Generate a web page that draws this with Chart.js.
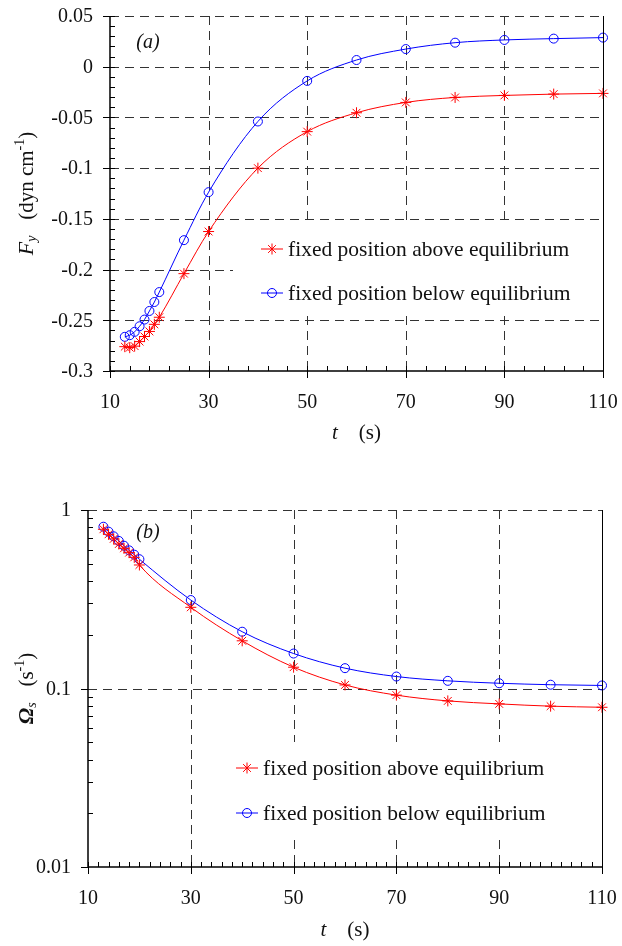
<!DOCTYPE html>
<html>
<head>
<meta charset="utf-8">
<script src="https://cdn.jsdelivr.net/npm/chart.js@4.4.9/dist/chart.umd.min.js"></script>
<style>
html, body { margin: 0; padding: 0; background: #fff; }
#wrap { position: relative; width: 622px; height: 946px; }
canvas { position: absolute; left: 0; }
</style>
</head>
<body>
<div id="wrap">
  <canvas id="fy" width="622" height="470" style="top:0"></canvas>
  <canvas id="om" width="622" height="476" style="top:470px"></canvas>
</div>
<script>
// data
const tTop = [13, 14, 15, 16, 17, 18, 19, 20, 25, 30, 40, 50, 60, 70, 80, 90, 100, 110];
const fyAbove = [-0.276, -0.277, -0.2755, -0.271, -0.266, -0.261, -0.254, -0.247, -0.204, -0.1625, -0.100, -0.064, -0.0454, -0.0352, -0.0303, -0.0283, -0.027, -0.0263];
const fyBelow = [-0.2663, -0.2647, -0.2614, -0.2559, -0.2493, -0.2408, -0.232, -0.2222, -0.171, -0.1237, -0.054, -0.014, 0.0066, 0.0174, 0.0237, 0.0264, 0.0277, 0.0287];

const tBot = [13, 14, 15, 16, 17, 18, 19, 20, 30, 40, 50, 60, 70, 80, 90, 100, 110];
const omAbove = [0.78, 0.731, 0.689, 0.645, 0.61, 0.577, 0.543, 0.492, 0.285, 0.185, 0.1316, 0.1047, 0.0918, 0.0852, 0.082, 0.0796, 0.0785];
const omBelow = [0.806, 0.756, 0.712, 0.671, 0.631, 0.594, 0.562, 0.53, 0.313, 0.208, 0.157, 0.130, 0.1167, 0.1104, 0.107, 0.105, 0.104];

const xTicks = [10, 30, 50, 70, 90, 110];
const fyTicks = [0.05, 0, -0.05, -0.1, -0.15, -0.2, -0.25, -0.3];
const omTicks = [0.01, 0.1, 1];
const labels = ['fixed position above equilibrium', 'fixed position below equilibrium'];

const RED = '#ff0000', BLUE = '#0000ff';
const SERIF = '"Liberation Serif", "Times New Roman", serif';

function series(xs, ys, i) {
  return {
    label: labels[i],
    data: xs.map((x, k) => ({ x, y: ys[k] })),
    borderColor: i ? BLUE : RED,
    backgroundColor: 'rgba(0,0,0,0)',
    borderWidth: 1,
    pointStyle: i ? 'circle' : 'star',
    pointRadius: i ? 4.5 : 5.5,
    pointBorderWidth: 1,
    pointBorderColor: i ? BLUE : RED,
    cubicInterpolationMode: 'monotone',
    clip: false
  };
}

// draw text made of several runs (italic, subscripts...) centred on cx,cy
function rich(ctx, parts, cx, cy, rot) {
  ctx.save();
  ctx.translate(cx, cy);
  if (rot) ctx.rotate(rot);
  let w = 0;
  parts.forEach(p => { ctx.font = p.f; w += ctx.measureText(p.t).width; });
  let x = -w / 2;
  ctx.fillStyle = '#111';
  ctx.textBaseline = 'middle';
  parts.forEach(p => {
    ctx.font = p.f;
    ctx.fillText(p.t, x, p.dy || 0);
    x += ctx.measureText(p.t).width;
  });
  ctx.restore();
}

function marker(ctx, style, color, x, y) {
  ctx.save();
  ctx.strokeStyle = color;
  ctx.lineWidth = 1;
  ctx.beginPath();
  ctx.moveTo(x - 11, y); ctx.lineTo(x + 11, y);
  ctx.stroke();
  ctx.beginPath();
  if (style === 'star') {
    const r = 5.5, d = r * Math.SQRT1_2;
    ctx.moveTo(x, y - r); ctx.lineTo(x, y + r);
    ctx.moveTo(x - d, y - d); ctx.lineTo(x + d, y + d);
    ctx.moveTo(x - d, y + d); ctx.lineTo(x + d, y - d);
  } else {
    ctx.arc(x, y, 4.5, 0, Math.PI * 2);
  }
  ctx.stroke();
  ctx.restore();
}

const fmt = v => String(+Number(v).toFixed(2));

function frame(o) {
  return {
    id: 'frame',
    beforeDatasetsDraw(chart) {
      const { ctx, chartArea: a, scales: { x, y } } = chart;
      ctx.save();
      ctx.lineWidth = 1;
      ctx.strokeStyle = '#333';
      ctx.setLineDash([9, 6]);
      xTicks.forEach(v => {
        if (v === x.min || v === x.max) return;
        const px = Math.round(x.getPixelForValue(v)) + 0.5;
        ctx.beginPath(); ctx.moveTo(px, a.top); ctx.lineTo(px, a.bottom); ctx.stroke();
      });
      o.yTicks.forEach(v => {
        if (v === y.min) return;
        const py = Math.round(y.getPixelForValue(v)) + 0.5;
        ctx.beginPath(); ctx.moveTo(a.left, py); ctx.lineTo(a.right, py); ctx.stroke();
      });
      ctx.setLineDash([]);
      ctx.fillStyle = '#fff';
      ctx.fillRect(o.box[0], o.box[1], o.box[2], o.box[3]);
      ctx.restore();
    },
    afterDatasetsDraw(chart) {
      const { ctx, chartArea: a, scales: { x, y } } = chart;
      ctx.save();
      ctx.strokeStyle = '#000';
      // right border
      ctx.lineWidth = 1;
      ctx.beginPath(); ctx.moveTo(a.right + 0.5, a.top); ctx.lineTo(a.right + 0.5, a.bottom); ctx.stroke();
      // left and bottom axes
      ctx.lineWidth = 1.5;
      ctx.beginPath();
      ctx.moveTo(a.left, a.top); ctx.lineTo(a.left, a.bottom); ctx.lineTo(a.right + 1, a.bottom);
      ctx.stroke();
      ctx.lineWidth = 1;
      ctx.beginPath();
      // major ticks outward
      xTicks.forEach(v => {
        const px = Math.round(x.getPixelForValue(v)) + 0.5;
        ctx.moveTo(px, a.bottom); ctx.lineTo(px, a.bottom + 7);
      });
      o.yTicks.forEach(v => {
        const py = Math.round(y.getPixelForValue(v)) + 0.5;
        ctx.moveTo(a.left - 7, py); ctx.lineTo(a.left, py);
      });
      // minor ticks inward
      for (let v = x.min; v <= x.max; v += o.xMinor) {
        const px = Math.round(x.getPixelForValue(v)) + 0.5;
        ctx.moveTo(px, a.bottom); ctx.lineTo(px, a.bottom - 5);
      }
      o.yMinor.forEach(v => {
        const py = Math.round(y.getPixelForValue(v)) + 0.5;
        ctx.moveTo(a.left, py); ctx.lineTo(a.left + 5, py);
      });
      ctx.stroke();

      // tick labels
      ctx.font = '20px ' + SERIF;
      ctx.fillStyle = '#111';
      ctx.textBaseline = 'middle';
      ctx.textAlign = 'center';
      x.ticks.forEach(t => ctx.fillText(fmt(t.value), x.getPixelForValue(t.value), a.bottom + 32));
      ctx.textAlign = 'right';
      y.ticks.forEach(t => ctx.fillText(fmt(t.value), a.left - 17, y.getPixelForValue(t.value) + 1));
      ctx.textAlign = 'left';

      // legend
      ctx.font = '21.5px ' + SERIF;
      o.legend.forEach((p, i) => {
        marker(ctx, i ? 'circle' : 'star', i ? BLUE : RED, p[0], p[1]);
        ctx.fillText(labels[i], p[0] + 16, p[1] + 1);
      });
      ctx.restore();

      // panel label and axis titles
      rich(ctx, [{ t: o.panel, f: 'italic 20px ' + SERIF }], o.panelAt[0], o.panelAt[1]);
      rich(ctx, [
        { t: 't', f: 'italic 21px ' + SERIF },
        { t: '    (s)', f: '21px ' + SERIF }
      ], (a.left + a.right) / 2, a.bottom + o.xTitleGap);
      rich(ctx, o.yTitle, o.yTitleX, (a.top + a.bottom) / 2, -Math.PI / 2);
    }
  };
}

function setTicks(list) {
  return s => { s.ticks = list.map(v => ({ value: v })); };
}

function axes(yType, yMin, yMax, yList, yWidth) {
  return {
    x: {
      type: 'linear', min: 10, max: 110,
      afterBuildTicks: setTicks(xTicks),
      afterFit: s => { s.height = 40; },
      grid: { display: false, drawTicks: false },
      border: { display: false },
      ticks: { display: false, padding: 0 }
    },
    y: {
      type: yType, min: yMin, max: yMax,
      afterBuildTicks: setTicks(yList),
      afterFit: s => { s.width = yWidth; },
      grid: { display: false, drawTicks: false },
      border: { display: false },
      ticks: { display: false, padding: 0 }
    }
  };
}

// (a) F_y
const fyMinor = [];
for (let k = -30; k <= 5; k++) fyMinor.push(k / 100);

new Chart(document.getElementById('fy'), {
  type: 'line',
  data: { datasets: [series(tTop, fyAbove, 0), series(tTop, fyBelow, 1)] },
  options: {
    responsive: false,
    animation: false,
    layout: { padding: { left: 0, right: 19, top: 16, bottom: 59 } },
    plugins: { legend: { display: false }, tooltip: { enabled: false } },
    scales: axes('linear', -0.3, 0.05, fyTicks, 110)
  },
  plugins: [frame({
    yTicks: fyTicks, yMinor: fyMinor, xMinor: 4,
    box: [233, 226, 368, 87],
    legend: [[272, 249], [272, 293]],
    panel: '(a)', panelAt: [148, 43],
    xTitleGap: 62, yTitleX: 27,
    yTitle: [
      { t: 'F', f: 'italic 22px ' + SERIF },
      { t: 'y', f: 'italic 14px ' + SERIF, dy: 5 },
      { t: '   (dyn cm', f: '21px ' + SERIF },
      { t: '-1', f: '14px ' + SERIF, dy: -7 },
      { t: ')', f: '21px ' + SERIF }
    ]
  })]
});

// (b) Omega_s
const omMinor = [];
[0.01, 0.1].forEach(d => { for (let k = 2; k <= 9; k++) omMinor.push(k * d); });

new Chart(document.getElementById('om'), {
  type: 'line',
  data: { datasets: [series(tBot, omAbove, 0), series(tBot, omBelow, 1)] },
  options: {
    responsive: false,
    animation: false,
    layout: { padding: { left: 0, right: 20, top: 40, bottom: 39 } },
    plugins: { legend: { display: false }, tooltip: { enabled: false } },
    scales: axes('logarithmic', 0.01, 1, omTicks, 88)
  },
  plugins: [frame({
    yTicks: omTicks, yMinor: omMinor, xMinor: 2,
    box: [228, 272, 372, 98],
    legend: [[247, 298], [247, 343]],
    panel: '(b)', panelAt: [148, 63],
    xTitleGap: 63, yTitleX: 27,
    yTitle: [
      { t: 'Ω', f: 'bold italic 22px ' + SERIF },
      { t: 's', f: 'italic 14px ' + SERIF, dy: 5 },
      { t: '   (s', f: '21px ' + SERIF },
      { t: '-1', f: '14px ' + SERIF, dy: -7 },
      { t: ')', f: '21px ' + SERIF }
    ]
  })]
});
</script>
</body>
</html>
